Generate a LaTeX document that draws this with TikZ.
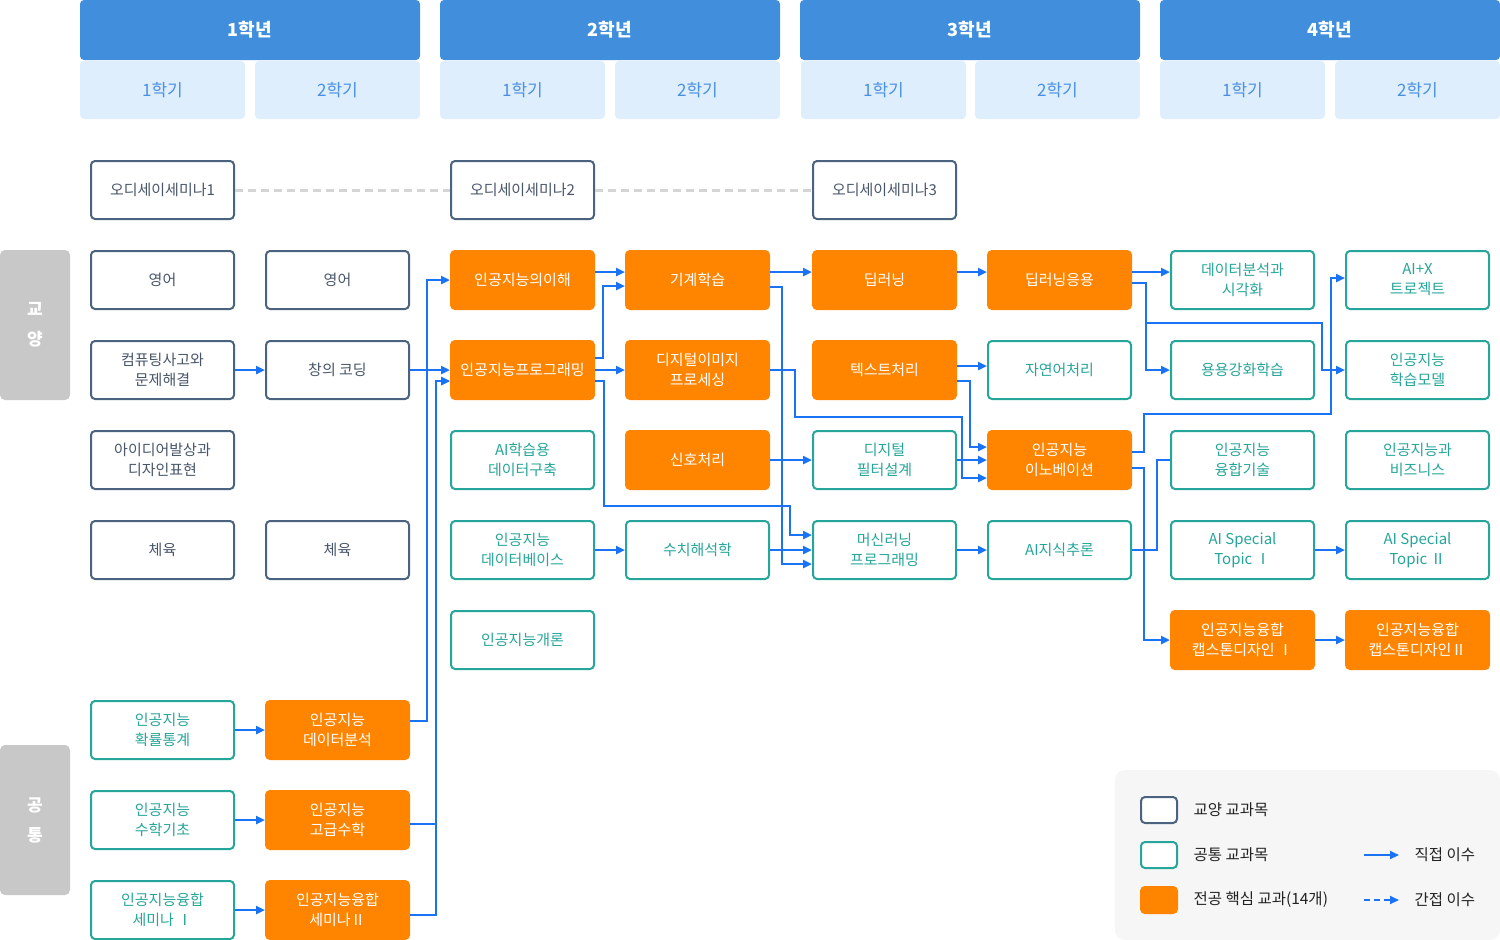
\documentclass[tikz,border=0pt]{standalone}
\usepackage{fontspec}
\setmainfont{Noto Sans CJK KR}
\usepackage{tikz}
\usetikzlibrary{arrows.meta}
\usepackage{xcolor}
\definecolor{yearblue}{RGB}{64,142,220}
\definecolor{semfill}{RGB}{223,238,253}
\definecolor{semtext}{RGB}{74,144,226}
\definecolor{gyline}{RGB}{74,100,128}
\definecolor{gytext}{RGB}{72,86,106}
\definecolor{cmteal}{RGB}{38,166,154}
\definecolor{mjorange}{RGB}{255,133,0}
\definecolor{sidegrey}{RGB}{200,200,200}
\definecolor{dashgrey}{RGB}{213,213,213}
\definecolor{legfill}{RGB}{246,246,246}
\definecolor{linkblue}{RGB}{26,115,245}
\definecolor{legtext}{RGB}{34,34,34}

\begin{document}
\begin{tikzpicture}[x=1pt, y=-1pt,
    year/.style={rectangle, rounded corners=4pt, fill=yearblue, text=white, minimum width=340pt, minimum height=60pt, font=\fontsize{18}{20}\selectfont\bfseries},
    sem/.style={rectangle, rounded corners=4pt, fill=semfill, text=semtext, minimum width=165pt, minimum height=58pt, font=\fontsize{17}{20}\selectfont},
    side/.style={rectangle, rounded corners=5pt, fill=sidegrey, text=white, minimum width=70pt, minimum height=150pt, align=center, font=\fontsize{17}{30}\selectfont\bfseries},
    gybox/.style={rectangle, rounded corners=4pt, draw=gyline, line width=2pt, fill=white, text=gytext, minimum width=143pt, minimum height=58pt, align=center, font=\fontsize{15}{20}\selectfont},
    cmbox/.style={gybox, draw=cmteal, text=cmteal},
    mjbox/.style={gybox, draw=mjorange, fill=mjorange, text=white},
    pre/.style={-{Triangle[length=9pt,width=8pt]}, line width=2.5pt, draw=linkblue},
    link/.style={line width=2.5pt, draw=linkblue},
    semlink/.style={line width=3pt, draw=dashgrey, dash pattern=on 8pt off 5pt},
    legsq/.style={rectangle, rounded corners=4pt, line width=2pt, minimum width=36pt, minimum height=26pt},
    legtxt/.style={anchor=west, text=legtext, font=\fontsize{15.5}{18}\selectfont}
]
\useasboundingbox (0,0) rectangle (1500,940);

\node[year] (y1) at (250,30) {1학년};
\node[year] (y2) at (610,30) {2학년};
\node[year] (y3) at (970,30) {3학년};
\node[year] (y4) at (1330,30) {4학년};
\node[sem] (s11) at (162.5,90) {1학기};
\node[sem] (s12) at (337.5,90) {2학기};
\node[sem] (s21) at (522.5,90) {1학기};
\node[sem] (s22) at (697.5,90) {2학기};
\node[sem] (s31) at (883.5,90) {1학기};
\node[sem] (s32) at (1057.5,90) {2학기};
\node[sem] (s41) at (1242.5,90) {1학기};
\node[sem] (s42) at (1417.5,90) {2학기};

\node[side] (kyoyang) at (35,325) {교\\양};
\node[side] (gongtong) at (35,820) {공\\통};

\node[gybox] (sem1) at (162.5,190) {오디세이세미나1};
\node[gybox] (sem2) at (522.5,190) {오디세이세미나2};
\node[gybox] (sem3) at (884.5,190) {오디세이세미나3};

\node[gybox] (eng1) at (162.5,280) {영어};
\node[gybox] (eng2) at (337.5,280) {영어};
\node[mjbox] (aiund) at (522.5,280) {인공지능의이해};
\node[mjbox] (ml) at (697.5,280) {기계학습};
\node[mjbox] (dl) at (884.5,280) {딥러닝};
\node[mjbox] (dlapp) at (1059.5,280) {딥러닝응용};
\node[cmbox] (viz) at (1242.5,280) {데이터분석과\\시각화};
\node[cmbox] (aix) at (1417.5,280) {AI+X\\트로젝트};

\node[gybox] (ctps) at (162.5,370) {컴퓨팅사고와\\문제해결};
\node[gybox] (coding) at (337.5,370) {창의 코딩};
\node[mjbox] (aiprog) at (522.5,370) {인공지능프로그래밍};
\node[mjbox] (dip) at (697.5,370) {디지털이미지\\프로세싱};
\node[mjbox] (txt) at (884.5,370) {텍스트처리};
\node[cmbox] (nlp) at (1059.5,370) {자연어처리};
\node[cmbox] (rl) at (1242.5,370) {용용강화학습};
\node[cmbox] (model) at (1417.5,370) {인공지능\\학습모델};

\node[gybox] (idea) at (162.5,460) {아이디어발상과\\디자인표현};
\node[cmbox] (aidata) at (522.5,460) {AI학습용\\데이터구축};
\node[mjbox] (sig) at (697.5,460) {신호처리};
\node[cmbox] (dfd) at (884.5,460) {디지털\\필터설계};
\node[mjbox] (inno) at (1059.5,460) {인공지능\\이노베이션};
\node[cmbox] (fusion) at (1242.5,460) {인공지능\\융합기술};
\node[cmbox] (biz) at (1417.5,460) {인공지능과\\비즈니스};

\node[gybox] (pe1) at (162.5,550) {체육};
\node[gybox] (pe2) at (337.5,550) {체육};
\node[cmbox] (aidb) at (522.5,550) {인공지능\\데이터베이스};
\node[cmbox] (num) at (697.5,550) {수치해석학};
\node[cmbox] (mlp) at (884.5,550) {머신러닝\\프로그래밍};
\node[cmbox] (kr) at (1059.5,550) {AI지식추론};
\node[cmbox] (spt1) at (1242.5,550) {AI Special\\Topic Ⅰ};
\node[cmbox] (spt2) at (1417.5,550) {AI Special\\Topic Ⅱ};

\node[cmbox] (aiintro) at (522.5,640) {인공지능개론};
\node[mjbox] (cap1) at (1242.5,640) {인공지능융합\\캡스톤디자인 Ⅰ};
\node[mjbox] (cap2) at (1417.5,640) {인공지능융합\\캡스톤디자인Ⅱ};

\node[cmbox] (prob) at (162.5,730) {인공지능\\확률통계};
\node[mjbox] (anal) at (337.5,730) {인공지능\\데이터분석};
\node[cmbox] (mathb) at (162.5,820) {인공지능\\수학기초};
\node[mjbox] (matha) at (337.5,820) {인공지능\\고급수학};
\node[cmbox] (fsem1) at (162.5,910) {인공지능융합\\세미나 Ⅰ};
\node[mjbox] (fsem2) at (337.5,910) {인공지능융합\\세미나Ⅱ};

\draw[semlink] (sem1) -- (sem2);
\draw[semlink] (sem2) -- (sem3);

\draw[pre] (ctps) -- (coding);
\draw[pre] (coding) -- (aiprog);
\draw[pre] (prob) -- (anal);
\draw[pre] (mathb) -- (matha);
\draw[pre] (fsem1) -- (fsem2);
\draw[pre] ([yshift=9pt]anal.east) -- ++(17,0) |- (aiund.west);
\draw[pre] ([yshift=-4pt]matha.east) -- ++(26,0) |- ([yshift=-11pt]aiprog.west);
\draw[pre] ([yshift=-5pt]fsem2.east) -- ++(26,0) |- ([yshift=-11pt]aiprog.west);

\draw[pre] ([yshift=8pt]aiund.east) -- ([yshift=8pt]ml.west);
\draw[pre] ([yshift=12pt]aiprog.east) -- ++(8,0) |- ([yshift=-6pt]ml.west);
\draw[pre] (aiprog) -- (dip);
\draw[pre] ([yshift=-11pt]aiprog.east) -- ++(9,0) -- ++(0,125) -| ([xshift=-22pt,yshift=15pt]mlp.west) -- ([yshift=15pt]mlp.west);
\draw[pre] (aidb) -- (num);

\draw[pre] ([yshift=8pt]ml.east) -- ([yshift=8pt]dl.west);
\draw[pre] ([yshift=-7pt]ml.east) -- ++(12,0) |- ([yshift=-14pt]mlp.west);
\draw[pre] (dip.east) -- ++(25,0) -- ++(0,47) -| ([xshift=-25pt,yshift=-18pt]inno.west) -- ([yshift=-18pt]inno.west);
\draw[pre] (sig) -- (dfd);
\draw[pre] (num) -- (mlp);

\draw[pre] ([yshift=8pt]dl.east) -- ([yshift=8pt]dlapp.west);
\draw[pre] ([yshift=4pt]txt.east) -- ([yshift=4pt]nlp.west);
\draw[pre] ([yshift=-11pt]txt.east) -- ++(13,0) |- ([yshift=13pt]inno.west);
\draw[pre] (dfd) -- (inno);
\draw[pre] (mlp) -- (kr);

\draw[pre] ([yshift=8pt]dlapp.east) -- ([yshift=8pt]viz.west);
\draw[pre] ([yshift=-3pt]dlapp.east) -- ++(14,0) |- (rl.west);
\draw[pre] ([yshift=-3pt]dlapp.east) -- ++(14,0) -- ++(0,40) -| ([xshift=-23pt]model.west) -- (model.west);
\draw[pre] ([yshift=8pt]inno.east) -- ++(12,0) -- ++(0,-38) -| ([xshift=-14pt,yshift=2pt]aix.west) -- ([yshift=2pt]aix.west);
\draw[pre] ([yshift=-8pt]inno.east) -- ++(12,0) |- (cap1.west);
\draw[link] (kr.east) -- ++(25,0) |- (fusion.west);

\draw[pre] (spt1) -- (spt2);
\draw[pre] (cap1) -- (cap2);

\node[rectangle, rounded corners=10pt, fill=legfill, minimum width=385pt, minimum height=170pt] (legend) at (1307.5,855) {};
\node[legsq, draw=gyline, fill=white] (lgy) at (1159,810) {};
\node[legsq, draw=cmteal, fill=white] (lcm) at (1159,855) {};
\node[legsq, draw=mjorange, fill=mjorange] (lmj) at (1159,900) {};
\node[legtxt] (tgy) at (1190,810) {교양 교과목};
\node[legtxt] (tcm) at (1190,855) {공통 교과목};
\node[legtxt] (tmj) at (1190,900) {전공 핵심 교과(14개)};
\coordinate (ldir) at (1364,855);
\coordinate (lind) at (1364,900);
\draw[pre, line width=2pt] (ldir) -- ++(35,0);
\draw[pre, line width=2pt, dash pattern=on 6pt off 4pt] (lind) -- ++(35,0);
\node[legtxt] (tdir) at (1411,855) {직접 이수};
\node[legtxt] (tind) at (1411,900) {간접 이수};
\end{tikzpicture}
\end{document}
